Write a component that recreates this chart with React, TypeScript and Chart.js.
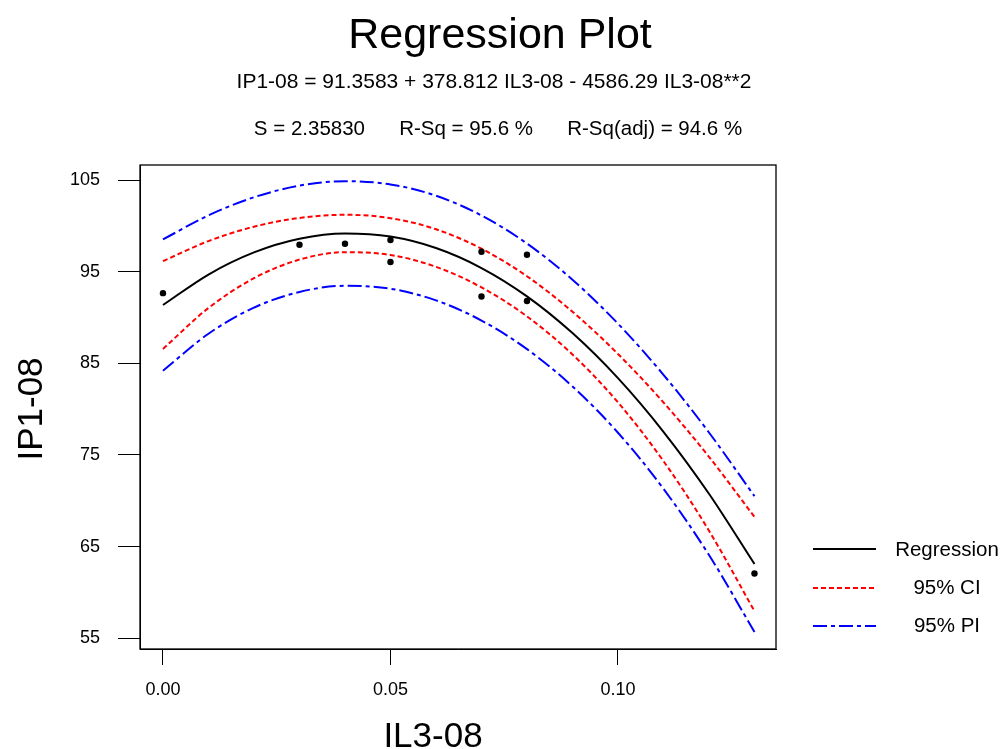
import React, { useEffect, useRef } from 'react';
import { Chart, registerables } from 'chart.js';

Chart.register(...registerables);

// ---- data ----
const curveX = [0, 0.01, 0.02, 0.03, 0.04, 0.05, 0.06, 0.07, 0.08, 0.09, 0.1, 0.11, 0.12, 0.13];
const regression = [91.36, 94.69, 97.1, 98.59, 99.17, 98.83, 97.58, 95.4, 92.31, 88.3, 83.38, 77.53, 70.77, 63.1];
const ciUpper = [96.15, 98.34, 99.91, 100.86, 101.21, 100.84, 99.63, 97.51, 94.5, 90.63, 86.02, 80.73, 74.8, 68.24];
const ciLower = [86.57, 91.04, 94.29, 96.32, 97.13, 96.82, 95.53, 93.29, 90.12, 85.97, 80.74, 74.33, 66.74, 57.96];
const piUpper = [98.52, 101.15, 103.12, 104.39, 104.88, 104.52, 103.29, 101.13, 98.07, 94.12, 89.33, 83.75, 77.45, 70.51];
const piLower = [84.2, 88.23, 91.08, 92.79, 93.46, 93.14, 91.87, 89.67, 86.55, 82.48, 77.43, 71.31, 64.09, 55.69];
const obsX = [0, 0.03, 0.04, 0.05, 0.05, 0.07, 0.07, 0.08, 0.08, 0.13];
const obsY = [92.66, 97.94, 98.05, 98.45, 96.05, 97.17, 92.3, 96.85, 91.8, 62.06];

const xTicks = [0, 0.05, 0.1];
const xTickLabels = ['0.00', '0.05', '0.10'];
const yTicks = [55, 65, 75, 85, 95, 105];
const yTickLabels = ['55', '65', '75', '85', '95', '105'];

const titleText = 'Regression Plot';
const equationText = 'IP1-08 = 91.3583 + 378.812 IL3-08 - 4586.29 IL3-08**2';
const statsText = 'S = 2.35830      R-Sq = 95.6 %      R-Sq(adj) = 94.6 %';
const xTitle = 'IL3-08';
const yTitle = 'IP1-08';
const legendLabels = ['Regression', '95% CI', '95% PI'];

const FONT = "Arial, 'Liberation Sans', sans-serif";

const toPts = (xs: number[], ys: number[]) => xs.map((x, i) => ({ x, y: ys[i] }));

const decorPlugin = {
  id: 'decor',
  afterDraw(chart: any) {
    const ctx = chart.ctx as CanvasRenderingContext2D;
    const a = chart.chartArea;
    ctx.save();
    // frame
    ctx.strokeStyle = '#000';
    ctx.lineWidth = 1.3;
    ctx.setLineDash([]);
    ctx.strokeRect(a.left, a.top, a.right - a.left, a.bottom - a.top);

    ctx.fillStyle = '#000';
    ctx.textAlign = 'center';
    ctx.textBaseline = 'alphabetic';
    ctx.font = `43px ${FONT}`;
    ctx.fillText(titleText, 500, 48);
    ctx.font = `21px ${FONT}`;
    ctx.fillText(equationText, 494, 88);
    ctx.font = `20.5px ${FONT}`;
    ctx.fillText(statsText, 498, 135);

    // axis titles
    ctx.font = `35px ${FONT}`;
    ctx.fillText(xTitle, 433, 747);
    ctx.save();
    ctx.translate(42, 409);
    ctx.rotate(-Math.PI / 2);
    ctx.fillText(yTitle, 0, 0);
    ctx.restore();

    // legend
    const styles = [
      { color: '#000000', dash: [] as number[] },
      { color: '#ff0000', dash: [5, 3] },
      { color: '#0000ff', dash: [14, 4, 4, 4] },
    ];
    const ys = [549, 588, 626];
    const baselines = [556, 594, 632];
    ctx.lineWidth = 2;
    styles.forEach((s, i) => {
      ctx.strokeStyle = s.color;
      ctx.setLineDash(s.dash);
      ctx.beginPath();
      ctx.moveTo(813, ys[i]);
      ctx.lineTo(876, ys[i]);
      ctx.stroke();
    });
    ctx.setLineDash([]);
    ctx.font = `20.5px ${FONT}`;
    ctx.fillStyle = '#000';
    legendLabels.forEach((t, i) => ctx.fillText(t, 947, baselines[i]));
    ctx.restore();
  },
};

const lineDs = (label: string, ys: number[], color: string, dash: number[]) => ({
  label,
  data: toPts(curveX, ys),
  showLine: true,
  borderColor: color,
  borderWidth: 2,
  borderDash: dash,
  pointRadius: 0,
  cubicInterpolationMode: 'monotone',
});

export default function App() {
  const ref = useRef<HTMLCanvasElement | null>(null);
  useEffect(() => {
    if (!ref.current) return;
    const chart = new Chart(ref.current, {
      type: 'scatter',
      data: {
        datasets: [
          {
            label: 'Observed',
            data: toPts(obsX, obsY),
            showLine: false,
            pointStyle: 'circle',
            pointRadius: 3.2,
            pointBackgroundColor: '#000',
            pointBorderWidth: 0,
          },
          lineDs('Regression', regression, '#000000', []),
          lineDs('95% CI upper', ciUpper, '#ff0000', [5, 3]),
          lineDs('95% CI lower', ciLower, '#ff0000', [5, 3]),
          lineDs('95% PI upper', piUpper, '#0000ff', [14, 4, 4, 4]),
          lineDs('95% PI lower', piLower, '#0000ff', [14, 4, 4, 4]),
        ],
      },
      options: {
        responsive: false,
        animation: false,
        layout: { padding: { left: 0, top: 165, right: 228, bottom: 0 } },
        plugins: {
          legend: { display: false },
          title: { display: false },
          tooltip: { enabled: false },
        },
        scales: {
          x: {
            type: 'linear',
            min: -0.00505,
            max: 0.13473,
            afterBuildTicks: (s: any) => {
              s.ticks = xTicks.map((v) => ({ value: v }));
            },
            afterFit: (s: any) => {
              s.height = 100;
            },
            ticks: {
              callback: (_v: any, i: number) => xTickLabels[i],
              autoSkip: false,
              maxRotation: 0,
              color: '#000',
              padding: 14,
              font: { family: FONT, size: 18 },
            },
            grid: { drawOnChartArea: false, drawTicks: true, tickLength: 16, color: '#000', lineWidth: 1 },
            border: { display: true, color: '#000', width: 1 },
          },
          y: {
            type: 'linear',
            min: 53.83,
            max: 106.64,
            afterBuildTicks: (s: any) => {
              s.ticks = yTicks.map((v) => ({ value: v }));
            },
            afterFit: (s: any) => {
              s.width = 140;
            },
            ticks: {
              callback: (_v: any, i: number) => yTickLabels[i],
              autoSkip: false,
              color: '#000',
              padding: 18,
              font: { family: FONT, size: 18 },
            },
            grid: { drawOnChartArea: false, drawTicks: true, tickLength: 22, color: '#000', lineWidth: 1 },
            border: { display: true, color: '#000', width: 1 },
          },
        },
      },
      plugins: [decorPlugin],
    } as any);
    return () => chart.destroy();
  }, []);

  return (
    <div style={{ position: 'fixed', left: 0, top: 0, width: 1004, height: 749, background: '#fff' }}>
      <canvas ref={ref} width={1004} height={749} style={{ width: 1004, height: 749, display: 'block' }} />
    </div>
  );
}
